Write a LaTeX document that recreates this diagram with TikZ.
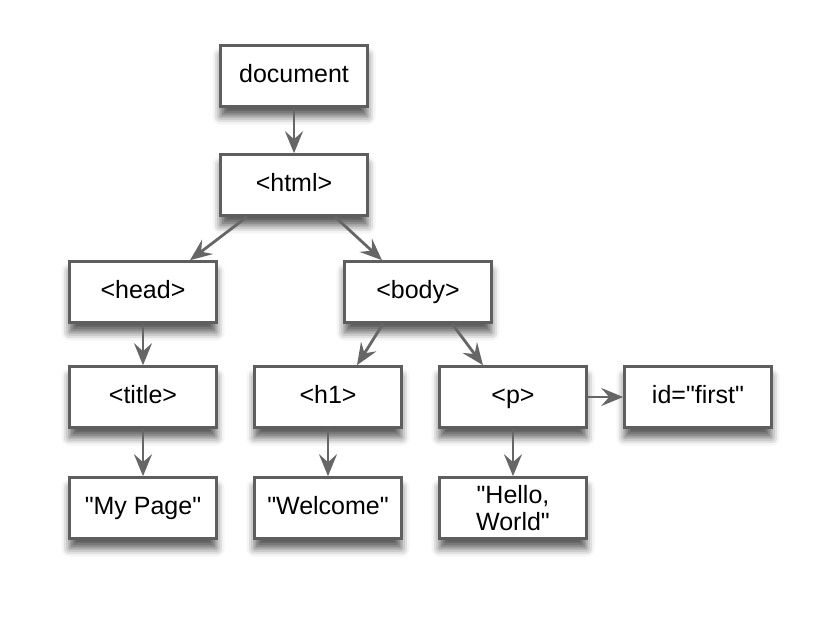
\documentclass[tikz,border=0pt]{standalone}
\usepackage{fontspec}
\setmainfont{Liberation Sans}[Ligatures=TeXOff]
\usepackage{tikz}
\usetikzlibrary{arrows.meta,shadows.blur}
\definecolor{edgegray}{HTML}{5E5E5E}
\definecolor{arrowgray}{HTML}{666666}

\begin{document}
\begin{tikzpicture}[
  x=1pt,y=-1pt,
  font=\fontsize{25}{27}\selectfont,
  domnode/.style={draw=edgegray,line width=2.6pt,fill=white,minimum width=147pt,minimum height=61pt,align=center,inner sep=2pt,
    blur shadow={shadow xshift=0pt,shadow yshift=-10pt,shadow blur radius=8pt,shadow opacity=65}},
  oneline/.style={domnode,text height=18pt,text depth=5pt},
  arr/.style={-{Stealth[length=22pt,width=18pt,inset=8pt]},line width=2.8pt,arrowgray}
]
\useasboundingbox (0,0) rectangle (830,625);
\node[oneline] (doc) at (294,76) {document};
\node[oneline] (html) at (294,185) {<html>};
\node[oneline] (head) at (143,292) {<head>};
\node[oneline] (body) at (418,292) {<body>};
\node[oneline] (title) at (143,397) {<title>};
\node[oneline] (h1) at (328,397) {<h1>};
\node[oneline] (p) at (513,397) {<p>};
\node[oneline] (id) at (698,397) {id="first"};
\node[oneline] (mypage) at (143,508) {"My Page"};
\node[oneline] (welcome) at (328,508) {"Welcome"};
\node[domnode] (hello) at (513,508) {"Hello,\\World"};
\draw[arr] (doc.south) -- (html.north);
\draw[arr] ([xshift=-47pt]html.south) -- ([xshift=47pt]head.north);
\draw[arr] ([xshift=41pt]html.south) -- ([xshift=-36pt]body.north);
\draw[arr] (head.south) -- (title.north);
\draw[arr] ([xshift=-35pt]body.south) -- ([xshift=29pt]h1.north);
\draw[arr] ([xshift=34pt]body.south) -- ([xshift=-30pt]p.north);
\draw[arr] (p.east) -- (id.west);
\draw[arr] (title.south) -- (mypage.north);
\draw[arr] (h1.south) -- (welcome.north);
\draw[arr] (p.south) -- (hello.north);
\end{tikzpicture}
\end{document}
